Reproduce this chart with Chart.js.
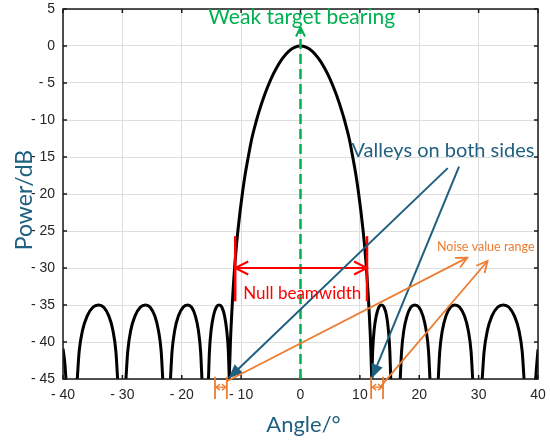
<!DOCTYPE html>
<html>
<head>
<meta charset="utf-8">
<script src="https://cdn.jsdelivr.net/npm/chart.js@4.4.0/dist/chart.umd.min.js"></script>
<style>
  html, body { margin: 0; padding: 0; background: #fff; }
  #wrap { width: 550px; height: 441px; }
</style>
</head>
<body>
<div id="wrap"><canvas id="beam"></canvas></div>
<script>
// beam pattern (angle in degrees, power in dB)
// null = the curve dives below -45 dB between two lobes
const angles = [
  -40, -39.7, -39.5, -39.5,
  -37.6, -37.28, -36.7, -35.94, -34.97, -34.0, -33.14, -32.27, -31.6, -31.09, -30.8, -30.8,
  -29.4, -29.1, -28.58, -27.88, -26.99, -26.1, -25.32, -24.53, -23.93, -23.46, -23.2, -23.2,
  -21.9, -21.64, -21.18, -20.57, -19.78, -19.0, -18.35, -17.7, -17.2, -16.82, -16.6, -16.6,
  -15.5, -15.34, -15.05, -14.67, -14.19, -13.7, -13.24, -12.78, -12.43, -12.15, -12.0, -12.0,
  -12.0, -11.8, -11.5, -11.1, -10.85, -10.55, -10.2, -9.8, -9.35, -8.8, -8.2, -7.4,
  -7.0, -6.0, -5.0, -4.0, -3.0, -2.0, -1.0,
  0,
  1.0, 2.0, 3.0, 4.0, 5.0, 6.0, 7.0,
  7.4, 8.2, 8.8, 9.35, 9.8, 10.2, 10.55, 10.85, 11.1, 11.5, 11.8, 12.0, 12.0,
  12.0, 12.15, 12.4, 12.75, 13.2, 13.65, 14.07, 14.5, 14.8, 15.05, 15.2, 15.2,
  16.8, 17.02, 17.41, 17.93, 18.59, 19.25, 19.94, 20.63, 21.16, 21.57, 21.8, 21.8,
  23.2, 23.45, 23.9, 24.49, 25.24, 26.0, 26.81, 27.62, 28.25, 28.73, 29.0, 29.0,
  30.6, 30.92, 31.49, 32.23, 33.19, 34.15, 35.1, 36.04, 36.78, 37.34, 37.65, 37.65,
  39.6, 39.8, 40
];
const powerDb = [
  -40.9, -42.8, -45, null,
  -45, -41.3, -38.4, -36.5, -35.3, -35, -35.3, -36.5, -38.4, -41.3, -45, null,
  -45, -41.3, -38.4, -36.5, -35.3, -35, -35.3, -36.5, -38.4, -41.3, -45, null,
  -45, -41.3, -38.4, -36.5, -35.3, -35, -35.3, -36.5, -38.4, -41.3, -45, null,
  -45, -41.3, -38.4, -36.5, -35.3, -35, -35.3, -36.5, -38.4, -41.3, -45, null,
  -45, -40, -35, -30, -27.5, -25, -22.5, -20, -17.5, -15, -12.5, -10,
  -8.9, -6.5, -4.5, -2.9, -1.65, -0.72, -0.18,
  0,
  -0.18, -0.72, -1.65, -2.9, -4.5, -6.5, -8.9,
  -10, -12.5, -15, -17.5, -20, -22.5, -25, -27.5, -30, -35, -40, -45, null,
  -45, -41.3, -38.4, -36.5, -35.3, -35, -35.3, -36.5, -38.4, -41.3, -45, null,
  -45, -41.3, -38.4, -36.5, -35.3, -35, -35.3, -36.5, -38.4, -41.3, -45, null,
  -45, -41.3, -38.4, -36.5, -35.3, -35, -35.3, -36.5, -38.4, -41.3, -45, null,
  -45, -41.3, -38.4, -36.5, -35.3, -35, -35.3, -36.5, -38.4, -41.3, -45, null,
  -45, -42.9, -41.0
];

const xTitle = 'Angle/°';
const yTitle = 'Power/dB';

const GREEN = '#00B050', RED = '#FF0000', BLUE = '#1F5F7F', ORANGE = '#ED7D31';
const TXT = 'Lato, "Open Sans", sans-serif';
const TICKFONT = { family: '"Liberation Sans", Arial, sans-serif', size: 14 };

function fmtTick(v) {
  return v < 0 ? '- ' + (-v) : String(v);
}

function seg(ctx, x1, y1, x2, y2) {
  ctx.beginPath(); ctx.moveTo(x1, y1); ctx.lineTo(x2, y2); ctx.stroke();
}
// open chevron at (tx,ty), pointing away from (fx,fy)
function openHead(ctx, tx, ty, fx, fy, len, half) {
  let dx = fx - tx, dy = fy - ty, d = Math.hypot(dx, dy);
  dx /= d; dy /= d;
  ctx.beginPath();
  ctx.moveTo(tx + dx * len - dy * half, ty + dy * len + dx * half);
  ctx.lineTo(tx, ty);
  ctx.lineTo(tx + dx * len + dy * half, ty + dy * len - dx * half);
  ctx.stroke();
}
function filledHead(ctx, tx, ty, fx, fy, len, half) {
  let dx = fx - tx, dy = fy - ty, d = Math.hypot(dx, dy);
  dx /= d; dy /= d;
  ctx.beginPath();
  ctx.moveTo(tx, ty);
  ctx.lineTo(tx + dx * len - dy * half, ty + dy * len + dx * half);
  ctx.lineTo(tx + dx * len + dy * half, ty + dy * len - dx * half);
  ctx.closePath();
  ctx.fill();
}

// annotations, in data units
const marks = {
  bearing: { x: 0, from: -45, to: 2.5 },
  nullBw: { x1: -11.0, x2: 11.2, y: -30, barTop: -25.7, barBot: -34.5 },
  valleys: [
    { from: [24.8, -16.5], to: [-12.1, -44.9] },
    { from: [26.7, -16.3], to: [12.0, -44.9] }
  ],
  noise: [
    { from: [-12.4, -45.3], to: [28.1, -28.6] },
    { from: [13.4, -46.1], to: [31.5, -29.05] }
  ],
  brackets: [[-14.4, -12.4], [11.9, 13.9]]
};

const decorPlugin = {
  id: 'decor',
  afterDatasetsDraw(chart) {
    const ctx = chart.ctx, xs = chart.scales.x, ys = chart.scales.y, a = chart.chartArea;
    const px = v => xs.getPixelForValue(v), py = v => ys.getPixelForValue(v);
    ctx.save();
    ctx.lineCap = 'butt';

    // box and inward ticks
    ctx.strokeStyle = '#1a1a1a';
    ctx.lineWidth = 1.5;
    ctx.strokeRect(a.left, a.top, a.right - a.left, a.bottom - a.top);
    xs.ticks.forEach(t => {
      const x = px(t.value);
      seg(ctx, x, a.top, x, a.top + 4);
      seg(ctx, x, a.bottom, x, a.bottom - 4);
    });
    ys.ticks.forEach(t => {
      const y = py(t.value);
      seg(ctx, a.left, y, a.left + 4, y);
      seg(ctx, a.right, y, a.right - 4, y);
    });

    // green dashed bearing line
    const b = marks.bearing;
    ctx.strokeStyle = GREEN;
    ctx.lineWidth = 2.5;
    ctx.setLineDash([10, 5]);
    seg(ctx, px(b.x), py(b.from), px(b.x), py(b.to));
    ctx.setLineDash([]);
    ctx.lineWidth = 2;
    openHead(ctx, px(b.x), py(b.to), px(b.x), py(b.from), 9, 4.5);

    // red null beamwidth
    const n = marks.nullBw;
    ctx.strokeStyle = RED;
    ctx.lineWidth = 2;
    seg(ctx, px(n.x1), py(n.y), px(n.x2), py(n.y));
    openHead(ctx, px(n.x1), py(n.y), px(n.x2), py(n.y), 13, 6.5);
    openHead(ctx, px(n.x2), py(n.y), px(n.x1), py(n.y), 13, 6.5);
    ctx.lineWidth = 2.5;
    seg(ctx, px(n.x1), py(n.barTop), px(n.x1), py(n.barBot));
    seg(ctx, px(n.x2), py(n.barTop), px(n.x2), py(n.barBot));

    // blue valley arrows
    ctx.strokeStyle = BLUE;
    ctx.fillStyle = BLUE;
    ctx.lineWidth = 2;
    marks.valleys.forEach(v => {
      const fx = px(v.from[0]), fy = py(v.from[1]), tx = px(v.to[0]), ty = py(v.to[1]);
      seg(ctx, fx, fy, tx, ty);
      filledHead(ctx, tx, ty, fx, fy, 14, 6);
    });

    // orange noise range arrows and brackets
    ctx.strokeStyle = ORANGE;
    ctx.lineWidth = 1.8;
    marks.noise.forEach(v => {
      const fx = px(v.from[0]), fy = py(v.from[1]), tx = px(v.to[0]), ty = py(v.to[1]);
      seg(ctx, fx, fy, tx, ty);
      openHead(ctx, tx, ty, fx, fy, 11, 5.5);
    });
    marks.brackets.forEach(br => {
      const x1 = px(br[0]), x2 = px(br[1]);
      const yT = py(-44.7), yB = py(-47.7), yM = py(-46.1);
      seg(ctx, x1, yT, x1, yB);
      seg(ctx, x2, yT, x2, yB);
      ctx.lineWidth = 1.3;
      seg(ctx, x1, yM, x2, yM);
      openHead(ctx, x1 + 1, yM, x2, yM, 4, 3);
      openHead(ctx, x2 - 1, yM, x1, yM, 4, 3);
      ctx.lineWidth = 1.8;
    });

    // texts
    ctx.textAlign = 'center';
    ctx.textBaseline = 'middle';
    ctx.fillStyle = GREEN;
    ctx.font = '21px ' + TXT;
    ctx.fillText('Weak target bearing', px(0.2), py(3.9));
    ctx.fillStyle = RED;
    ctx.font = '17px ' + TXT;
    ctx.fillText('Null beamwidth', px(0.3), py(-33.4));
    ctx.fillStyle = BLUE;
    ctx.font = '20px ' + TXT;
    ctx.fillText('Valleys on both sides', px(24.0), py(-14.1));
    ctx.fillStyle = ORANGE;
    ctx.font = '12.5px ' + TXT;
    ctx.fillText('Noise value range', px(31.2), py(-27.1));

    // axis titles
    ctx.fillStyle = BLUE;
    ctx.font = '22px ' + TXT;
    ctx.fillText(xTitle, (a.left + a.right) / 2 + 3, 425);
    ctx.save();
    ctx.translate(25, 200);
    ctx.rotate(-Math.PI / 2);
    ctx.font = '23px ' + TXT;
    ctx.fillText(yTitle, 0, 0);
    ctx.restore();

    ctx.restore();
  }
};

new Chart(document.getElementById('beam').getContext('2d'), {
  type: 'line',
  data: {
    datasets: [{
      data: angles.map((v, i) => ({ x: v, y: powerDb[i] })),
      borderColor: '#000',
      borderWidth: 3,
      pointRadius: 0,
      cubicInterpolationMode: 'monotone',
      spanGaps: false
    }]
  },
  options: {
    responsive: true,
    maintainAspectRatio: false,
    animation: false,
    layout: { padding: { top: 9, right: 12, left: 0, bottom: 0 } },
    plugins: { legend: { display: false }, tooltip: { enabled: false } },
    scales: {
      x: {
        type: 'linear',
        min: -40, max: 40,
        ticks: { stepSize: 10, padding: 8, color: '#262626', font: TICKFONT, callback: fmtTick, maxRotation: 0 },
        grid: { color: '#dedede', lineWidth: 1, drawTicks: false },
        border: { display: false },
        afterFit: s => { s.height = 62; s.paddingLeft = 0; s.paddingRight = 0; }
      },
      y: {
        min: -45, max: 5,
        ticks: { stepSize: 5, padding: 8, color: '#262626', font: TICKFONT, callback: fmtTick },
        grid: { color: '#dedede', lineWidth: 1, drawTicks: false },
        border: { display: false },
        afterFit: s => { s.width = 63; s.paddingTop = 0; s.paddingBottom = 0; }
      }
    }
  },
  plugins: [decorPlugin]
});
</script>
</body>
</html>
